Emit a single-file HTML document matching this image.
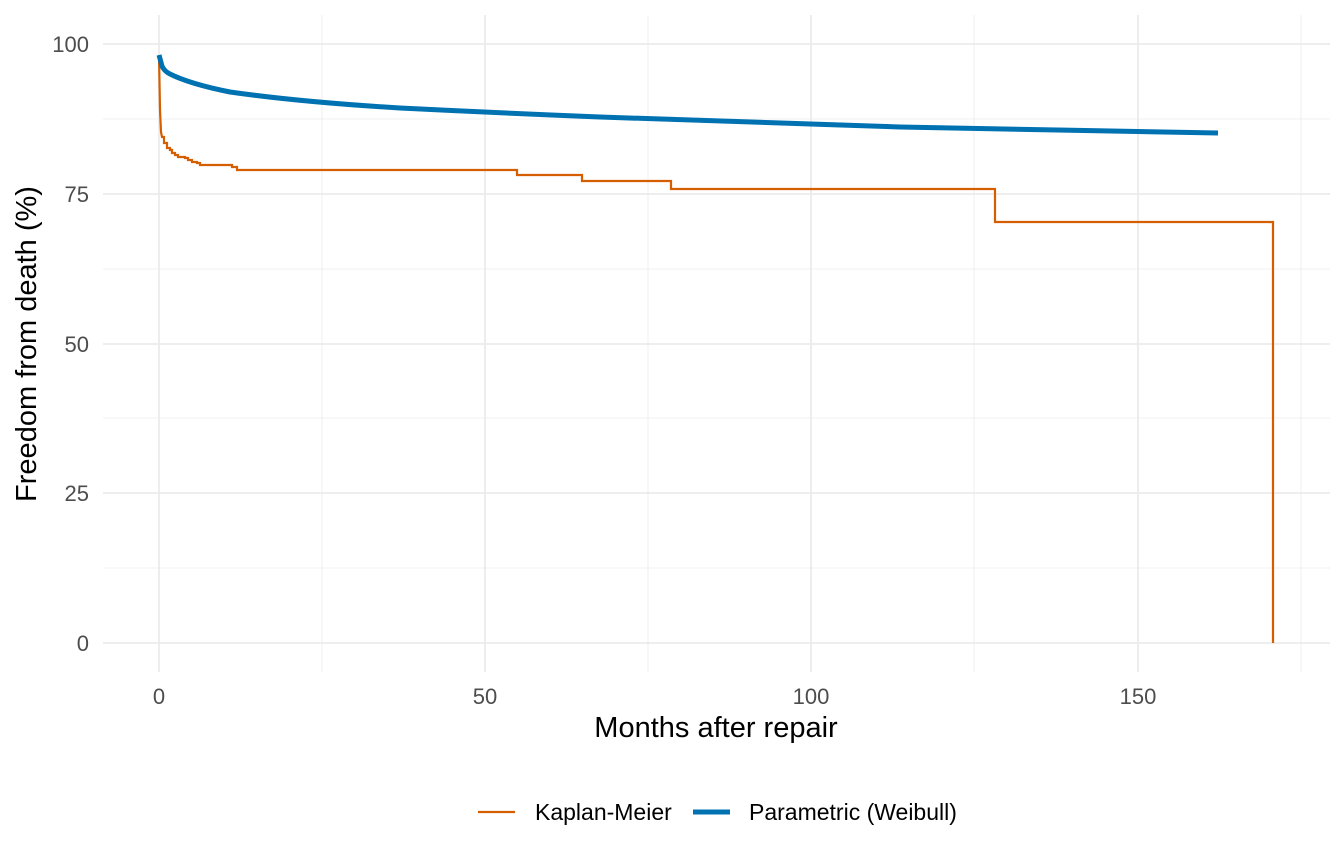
<!DOCTYPE html>
<html><head><meta charset="utf-8"><style>
html,body{margin:0;padding:0;background:#fff;}
svg{display:block;font-family:"Liberation Sans",sans-serif;}
</style></head><body>
<svg width="1344" height="864" viewBox="0 0 1344 864">
<g stroke="#ebebeb" fill="none">
<g stroke-width="0.8">
<line x1="103" x2="1330" y1="119" y2="119"/><line x1="103" x2="1330" y1="269" y2="269"/>
<line x1="103" x2="1330" y1="418" y2="418"/><line x1="103" x2="1330" y1="568" y2="568"/>
<line y1="15" y2="672" x1="322" x2="322"/><line y1="15" y2="672" x1="648" x2="648"/>
<line y1="15" y2="672" x1="974" x2="974"/><line y1="15" y2="672" x1="1301" x2="1301"/>
</g>
<g stroke-width="1.8">
<line x1="103" x2="1330" y1="44" y2="44"/><line x1="103" x2="1330" y1="194" y2="194"/>
<line x1="103" x2="1330" y1="344" y2="344"/><line x1="103" x2="1330" y1="493" y2="493"/>
<line x1="103" x2="1330" y1="643" y2="643"/>
<line y1="15" y2="672" x1="159" x2="159"/><line y1="15" y2="672" x1="485" x2="485"/>
<line y1="15" y2="672" x1="811" x2="811"/><line y1="15" y2="672" x1="1138" x2="1138"/>
</g></g>
<g font-size="22" fill="#4d4d4d" text-anchor="end">
<text x="89" y="52">100</text><text x="89" y="202">75</text><text x="89" y="352">50</text><text x="89" y="501">25</text><text x="89" y="651">0</text>
</g>
<g font-size="22" fill="#4d4d4d" text-anchor="middle">
<text x="159" y="704">0</text><text x="485" y="704">50</text><text x="811" y="704">100</text><text x="1138" y="704">150</text>
</g>
<text x="716" y="737" font-size="29" text-anchor="middle" fill="#000">Months after repair</text>
<text transform="translate(36,344) rotate(-90)" font-size="29" text-anchor="middle" fill="#000">Freedom from death (%)</text>
<path fill="none" stroke="#d55e00" stroke-width="2.2" d="M159,56 L160,110 L161,132 L162,137 H164 V143 H167 V148 H170 V150 H172 V153 H175 V155 H178 V157 H185 V158 H188 V160 H192 V162 H197 V163 H200 V165 H232 V167 H237 V170 H517 V175 H582 V181 H671 V189 H995 V222 H1273 V643"/>
<path fill="none" stroke="#0072b2" stroke-width="5" d="M159,55 L162,66 Q164,71 170,74 Q190,84 230,92 Q300,102 400,108 Q500,113 600,117 Q750,122 900,127 Q1050,130 1218,133"/>
<line x1="478" x2="515" y1="812" y2="812" stroke="#d55e00" stroke-width="2.2"/>
<text x="535" y="820" font-size="23" fill="#000">Kaplan-Meier</text>
<line x1="693" x2="730" y1="812" y2="812" stroke="#0072b2" stroke-width="5"/>
<text x="749" y="820" font-size="23" fill="#000">Parametric (Weibull)</text>
</svg>
</body></html>
